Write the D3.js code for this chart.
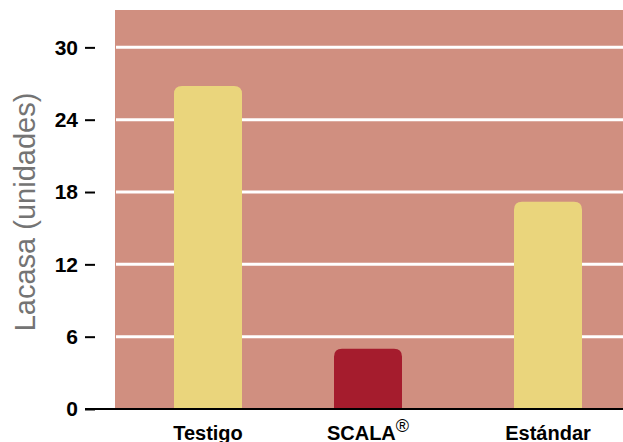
<!DOCTYPE html>
<html>
<head>
<meta charset="utf-8">
<script src="https://cdn.jsdelivr.net/npm/d3@7"></script>
<style>
  body { margin: 0; background: #fff; }
  svg { display: block; }
</style>
</head>
<body>
<svg id="chart" width="623" height="442"></svg>
<script>
// chart data
var categories = ["Testigo", "SCALA", "Estándar"];
var values = [26.8, 5.0, 17.2];
var tickValues = [0, 6, 12, 18, 24, 30];
var barColors = ["#EAD57C", "#A51C2D", "#EAD57C"];

var svg = d3.select("#chart");
var plotLeft = 115, plotRight = 623, plotTop = 10, baseY = 409;

var y = d3.scaleLinear().domain([0, 33.1]).range([baseY, plotTop]);
var x = d3.scaleOrdinal().domain(categories).range([208, 368, 548]);
var barW = 68, r = 8;

// background panel
svg.append("rect")
    .attr("x", plotLeft).attr("y", plotTop)
    .attr("width", plotRight - plotLeft).attr("height", baseY - plotTop)
    .attr("fill", "#D08F80");

// gridlines
svg.selectAll(".grid")
    .data(tickValues.filter(d => d > 0))
    .enter().append("line")
    .attr("x1", plotLeft + 1).attr("x2", plotRight)
    .attr("y1", d => y(d)).attr("y2", d => y(d))
    .attr("stroke", "#fff").attr("stroke-width", 3);

// bars with rounded top
var barPath = function(d, i) {
    var x0 = x(categories[i]) - barW / 2, x1 = x0 + barW;
    var top = y(d), bot = y(0);
    return "M" + x0 + "," + bot +
        "V" + (top + r) +
        "Q" + x0 + "," + top + " " + (x0 + r) + "," + top +
        "H" + (x1 - r) +
        "Q" + x1 + "," + top + " " + x1 + "," + (top + r) +
        "V" + bot + "Z";
}
svg.selectAll(".bar")
    .data(values)
    .enter().append("path")
    .attr("d", barPath)
    .attr("fill", (d, i) => barColors[i]);

// y axis
var yAxis = d3.axisLeft(y).tickValues(tickValues).tickSize(10).tickPadding(7);
var gy = svg.append("g").attr("transform", "translate(95,0)").call(yAxis);
gy.select(".domain").remove();
gy.selectAll(".tick line").attr("stroke", "#000").attr("stroke-width", 2);
gy.selectAll(".tick text")
    .attr("fill", "#000")
    .style("font-family", "'Liberation Sans', Arial, sans-serif")
    .style("font-size", "21px").style("font-weight", "bold");

// baseline
svg.append("line")
    .attr("x1", 85).attr("x2", plotRight)
    .attr("y1", baseY).attr("y2", baseY)
    .attr("stroke", "#000").attr("stroke-width", 2);

// category labels
var labels = svg.selectAll(".xlabel")
    .data(categories)
    .enter().append("text")
    .attr("x", d => x(d))
    .attr("y", 440)
    .attr("text-anchor", "middle")
    .style("font-family", "'Liberation Sans', Arial, sans-serif")
    .style("font-size", "20px").style("font-weight", "bold")
    .text(d => d);
labels.filter(d => d === "SCALA")
    .append("tspan")
    .attr("dy", -8).style("font-size", "18px").style("font-weight", "normal")
    .text("®");

// y axis title
svg.append("text")
    .attr("transform", "translate(35,212) rotate(-90)")
    .attr("text-anchor", "middle")
    .attr("fill", "#747474")
    .style("font-family", "'Liberation Sans', Arial, sans-serif")
    .style("font-size", "29px")
    .text("Lacasa (unidades)");
</script>
</body>
</html>
